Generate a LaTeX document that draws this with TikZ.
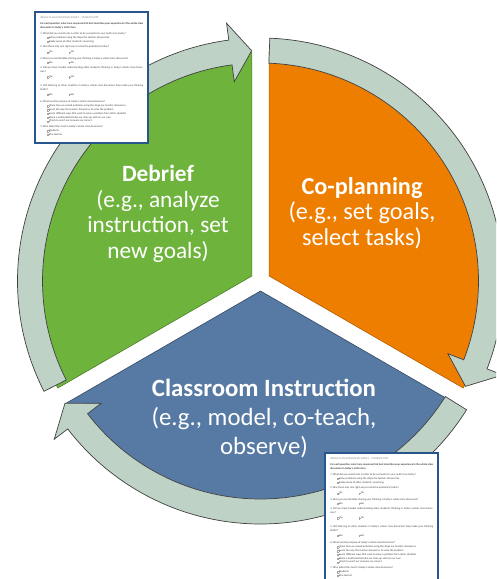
\documentclass[tikz,border=0pt]{standalone}
\usepackage{xcolor}
\usepackage{fontspec}
\setmainfont{Carlito}
\usepackage{tikz}

\definecolor{debriefgreen}{RGB}{110,180,60}
\definecolor{planorange}{RGB}{238,126,0}
\definecolor{classblue}{RGB}{87,122,164}
\definecolor{bandgray}{RGB}{190,210,198}
\definecolor{docblue}{RGB}{40,86,140}

% small tick box of the survey sheet
\newcommand{\cbox}{{\setlength{\fboxsep}{0pt}\setlength{\fboxrule}{0.08pt}%
    \color{black!35}\fbox{\rule{0pt}{1.2pt}\hspace{1.2pt}}}}
\newcommand{\yesno}{\hspace*{7pt}\cbox\ Yes\hspace{16pt}\cbox\ No\par}

% the student survey sheet
\newcommand{\surveysheet}{%
    {\color{gray}WHOLE CLASS DISCUSSION SURVEY -- STUDENT COPY}\par\vspace{2.4pt}
    \textbf{For each question, select one response that best describes your experience in the whole class discussion in today's math class.}\par\vspace{2pt}
    1.\ What did you need to do in order to be successful in your math class today?\par
    \hspace*{7pt}\cbox\ Solve problems using the steps the teacher showed me\par
    \hspace*{7pt}\cbox\ Make sense of other students' reasoning\par\vspace{2pt}
    2.\ Was there only one right way to solve the problem(s) today?\par\vspace{1.2pt}
    \yesno\vspace{2.6pt}
    3.\ Were you comfortable sharing your thinking in today's whole class discussion?\par
    \yesno\vspace{2pt}
    4.\ Did you have trouble understanding other students' thinking in today's whole class discussion?\par\vspace{1.2pt}
    \yesno\vspace{5pt}
    5.\ Did listening to other students in today's whole class discussion help make your thinking better?\par\vspace{1pt}
    \yesno\vspace{4pt}
    6.\ What was the purpose of today's whole class discussion?\par
    \hspace*{7pt}\cbox\ Share how we solved problems using the steps our teacher showed us\par
    \hspace*{7pt}\cbox\ Learn the way the teacher showed us to solve the problem\par
    \hspace*{7pt}\cbox\ Learn different ways that work to solve a problem from other students\par
    \hspace*{7pt}\cbox\ Share a mathematical idea we came up with on our own\par
    \hspace*{7pt}\cbox\ Check to see if our answers are correct\par\vspace{2pt}
    7.\ Who talked the most in today's whole class discussion?\par
    \hspace*{7pt}\cbox\ Students\par
    \hspace*{7pt}\cbox\ The teacher\par}

% curved band arrow: tail angle, head back angle, tip angle
\newcommand{\cyclearrow}[3]{%
    \draw[band] (#1:243) arc[start angle=#1, end angle=#2, radius=243]
    -- (#2:260) -- (#3:230.5) -- (#2:201) -- (#2:218)
    arc[start angle=#2, end angle=#1, radius=218] -- cycle;}

\begin{document}
\begin{tikzpicture}[x=1pt,y=1pt,
    band/.style={fill=bandgray, draw=black!75, line width=0.7pt, line join=miter},
    steptext/.style={text=white, align=center, inner sep=0pt},
    docsheet/.style={draw=docblue, line width=2pt, fill=white, inner sep=5pt,
        anchor=north west, text=black!75, font=\fontsize{2.7}{3.8}\selectfont}]

    \useasboundingbox (-260.5,-298) rectangle (235.5,281);
    \clip (-260.5,-298) rectangle (235.5,281);

    \coordinate (c) at (0,0);% centre of the cycle

    \draw[fill=debriefgreen, draw=debriefgreen!70!black, line width=0.6pt]% debrief slice
    (-8.66,5) -- ++(90:224) arc[start angle=90, end angle=210, radius=224] -- cycle;
    \draw[fill=planorange, draw=planorange!75!black, line width=0.6pt]% co-planning slice
    (8.66,5) -- ++(90:224) arc[start angle=90, end angle=-30, radius=224] -- cycle;
    \draw[fill=classblue, draw=classblue!60!black, line width=0.6pt]% instruction slice
    (0,-10) -- ++(210:224) arc[start angle=210, end angle=330, radius=224] -- cycle;

    \cyclearrow{207}{97.5}{92.2}% left arrow, up to the top
    \cyclearrow{87.8}{-21.2}{-27.2}% right arrow
    \cyclearrow{-32}{-142.5}{-148}% bottom arrow

    \node[steptext, font=\fontsize{23.3}{25.5}\selectfont] (debrief) at (-102.5,67)
        {\textbf{Debrief}\\(e.g., analyze\\instruction, set\\new goals)};
    \node[steptext, font=\fontsize{24.3}{25.5}\selectfont] (coplan) at (101.5,68)
        {\textbf{Co-planning}\\(e.g., set goals,\\select tasks)};
    \node[steptext, font=\fontsize{24.8}{29}\selectfont] (classroom) at (3.5,-137)
        {\textbf{Classroom Instruction}\\(e.g., model, co-teach,\\observe)};

    \node[docsheet] (sheetA) at (-226.2,270)
        {\parbox[t][121pt][t]{103pt}{\surveysheet}};
    \node[docsheet] (sheetB) at (63.8,-171)
        {\parbox[t][121pt][t]{103pt}{\surveysheet}};

\end{tikzpicture}
\end{document}
